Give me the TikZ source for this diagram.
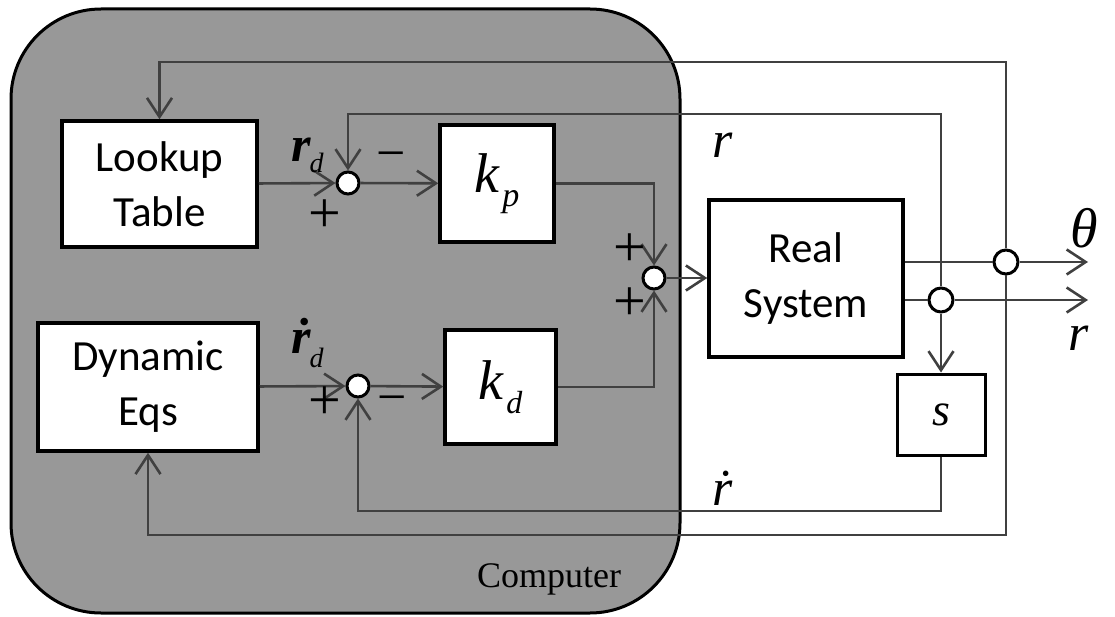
\documentclass[tikz,border=0pt]{standalone}
\usepackage{fontspec}
\setmainfont{Liberation Serif}
\newfontfamily\boxfont{Carlito}
\usetikzlibrary{arrows.meta}
\definecolor{compgray}{RGB}{152,152,152}
\definecolor{linegray}{RGB}{64,64,64}
\begin{document}
\begin{tikzpicture}[x=1pt,y=-1pt,
  blk/.style={draw=black,line width=3.5pt,fill=white,inner sep=0pt,align=center,font=\boxfont\fontsize{43}{55}\selectfont},
  sum/.style={circle,draw=black,line width=3pt,fill=white,minimum size=22pt,inner sep=0pt},
  conn/.style={draw=linegray,line width=2.6pt},
  arr/.style={conn,-{Straight Barb[length=19pt,width=25pt]}},
  sgn/.style={inner sep=0pt,font=\fontsize{52}{52}\selectfont},
  pls/.style={inner sep=0pt,text height=29pt,text depth=0pt,font=\fontsize{58}{58}\selectfont},
  lbl/.style={inner sep=0pt,anchor=base west,font=\fontsize{52}{52}\selectfont\itshape}]
\useasboundingbox (0,0) rectangle (1115,617);
\path[fill=compgray,draw=black,line width=3pt,rounded corners=90pt] (11,9) rectangle (680,613);
\node[font=\fontsize{36}{36}\selectfont,inner sep=0pt,anchor=base west] (comp) at (477,587) {Computer};

% blocks
\node[blk,minimum width=195pt,minimum height=126pt] (lookup) at (159.5,184) {Lookup\\Table};
\node[blk,minimum width=220pt,minimum height=128pt] (dyn) at (148,387) {Dynamic\\Eqs};
\node[blk,minimum width=114pt,minimum height=117pt] (kp) at (497,183.5) {\rmfamily\itshape\fontsize{56}{56}\selectfont k\kern3pt\raisebox{-14pt}{\fontsize{34}{34}\selectfont p}};
\node[blk,minimum width=111pt,minimum height=114pt] (kd) at (500.5,387) {\rmfamily\itshape\fontsize{56}{56}\selectfont k\kern3pt\raisebox{-14pt}{\fontsize{32}{32}\selectfont d}};
\node[blk,minimum width=194pt,minimum height=157pt] (real) at (806,278.5) {Real\\System};
\node[blk,minimum width=88pt,minimum height=81pt,line width=3pt] (s) at (941,414.5) {\rmfamily\itshape\fontsize{46}{46}\selectfont s};

% junctions
\node[sum] (j1) at (348,183) {};
\node[sum] (j2) at (358,386) {};
\node[sum] (j3) at (654,278) {};
\node[sum,minimum size=24pt] (jt) at (1006,262) {};
\node[sum,minimum size=24pt] (jr) at (941,300) {};

% corner coordinates
\coordinate (c1) at (1006,62);
\coordinate (c2) at (941,114);
\coordinate (c3) at (1006,535);
\coordinate (c4) at (941,511);
\coordinate (ot) at (1088,262);
\coordinate (or) at (1088,300);

% connectors
\draw[arr] (lookup) -- (j1);
\draw[arr] (j1) -- (kp);
\draw[arr] (dyn) -- (j2);
\draw[arr] (j2) -- (kd);
\draw[arr] (kp) -| (j3);
\draw[arr] (kd) -| (j3);
\draw[arr] (j3) -- (j3 -| real.west);
\draw[conn] (real.east |- jt) -- (jt);
\draw[conn] (real.east |- jr) -- (jr);
\draw[arr] (jt) -- (ot);
\draw[arr] (jr) -- (or);
\draw[arr] (jt) -- (c1) -| (lookup);
\draw[arr] (jt) -- (c3) -| (dyn);
\draw[arr] (jr) -- (c2) -| (j1);
\draw[arr] (jr) -- (s);
\draw[arr] (s) -- (c4) -| (j2);

% signs
\node[pls] (p1) at (325,218) {+};
\node[sgn] (m1) at (391,161) {−};
\node[pls] (p2) at (325,405) {+};
\node[sgn] (m2) at (392,405) {−};
\node[pls] (p3) at (630,252) {+};
\node[pls] (p4) at (630,306) {+};

% labels
\node[lbl,font=\fontsize{50}{50}\selectfont\bfseries\itshape] (lrd) at (291,162) {r\kern-1pt\raisebox{-11pt}{\mdseries\fontsize{28}{28}\selectfont d}};
\node[lbl,font=\fontsize{50}{50}\selectfont\bfseries\itshape] (lrdd) at (291,353) {ṙ\kern-1pt\raisebox{-14pt}{\mdseries\fontsize{28}{28}\selectfont d}};
\node[lbl] (lr) at (712,158) {r};
\node[lbl] (lrdot) at (712,505) {ṙ};
\node[lbl,font=\fontsize{56}{56}\selectfont\itshape] (lth) at (1070,248) {θ};
\node[lbl] (lro) at (1068,350) {r};
\end{tikzpicture}
\end{document}
